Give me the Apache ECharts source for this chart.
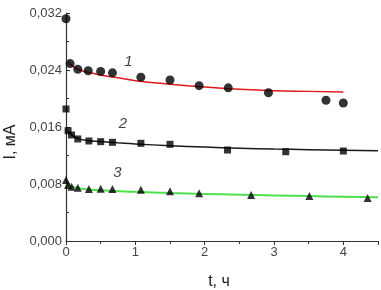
<!DOCTYPE html>
<html><head><meta charset="utf-8">
<script src="https://cdn.jsdelivr.net/npm/echarts@6/dist/echarts.min.js"></script>
<style>html,body{margin:0;padding:0;background:#fff}#c{width:381px;height:290px}</style>
</head><body><div id="c"></div>
<script>
// Experimental points: [t (h), I (mA)]
const pts1 = [[0,0.0312],[0.06,0.0249],[0.17,0.0241],[0.32,0.0239],[0.5,0.0238],[0.67,0.0236],[1.08,0.0230],[1.5,0.0226],[1.92,0.0218],[2.34,0.0215],[2.92,0.0208],[3.75,0.01975],[4.0,0.01937]];
const pts2 = [[0,0.01853],[0.03,0.01548],[0.08,0.01488],[0.17,0.01432],[0.33,0.01404],[0.5,0.01394],[0.67,0.01385],[1.08,0.01371],[1.5,0.01357],[2.33,0.01277],[3.17,0.01253],[4.0,0.01263]];
const pts3 = [[0,0.00856],[0.03,0.00786],[0.08,0.00762],[0.17,0.00748],[0.33,0.0073],[0.5,0.00734],[0.67,0.0073],[1.08,0.0072],[1.5,0.00698],[1.92,0.0067],[2.67,0.00646],[3.51,0.00632],[4.35,0.00604]];
// Fitted curves
const fit1 = [[0.03,0.0252],[0.1,0.0245],[0.2,0.0240],[0.35,0.0236],[0.5,0.0233],[0.75,0.0229],[1,0.0225],[1.5,0.0220],[2,0.0216],[2.5,0.0213],[3,0.0211],[3.5,0.0210],[4,0.0209]];
const fit2 = [[0.02,0.0155],[0.08,0.0149],[0.17,0.0144],[0.3,0.0141],[0.5,0.01395],[0.75,0.01378],[1,0.01362],[1.5,0.01338],[2,0.01318],[2.5,0.01303],[3,0.01291],[3.5,0.01282],[4,0.01274],[4.5,0.01267]];
const fit3 = [[0,0.0080],[0.1,0.0076],[0.25,0.0073],[0.5,0.00712],[1,0.0069],[1.5,0.00672],[2,0.0066],[2.5,0.0065],[3,0.0064],[3.5,0.0063],[4,0.00621],[4.5,0.00613]];
const curveLabels = [["1",0.9,0.0251],["2",0.82,0.0165],["3",0.74,0.0096]];
const xTicks = [0,1,2,3,4];

const chart = echarts.init(document.getElementById('c'));
const fmt = v => v.toFixed(3).replace('.', ',');
const axisCol = '#333';
chart.setOption({
  animation:false,
  grid:{left:66,right:3,top:13,bottom:49,outerBoundsMode:'none',containLabel:false},
  xAxis:{type:'value',min:0,max:4.5,interval:1,
    name:'t, ч',nameLocation:'middle',nameGap:33,
    nameTextStyle:{fontFamily:'Liberation Sans',fontSize:16,color:'#222',padding:[0,6,0,0]},
    axisLine:{lineStyle:{color:axisCol,width:1.2}},
    axisTick:{inside:false,length:4,lineStyle:{color:axisCol}},
    minorTick:{show:true,splitNumber:2,length:3,lineStyle:{color:axisCol}},
    splitLine:{show:false},
    axisLabel:{fontFamily:'Liberation Sans',fontSize:13,color:'#444',margin:5,
      formatter:v=>xTicks.includes(v)?String(v):''}
  },
  yAxis:{type:'value',min:0,max:0.032,interval:0.008,
    name:'I, мА',nameLocation:'middle',nameGap:47,nameRotate:90,
    nameTextStyle:{fontFamily:'Liberation Sans',fontSize:16,color:'#222',padding:[0,30,0,0]},
    axisLine:{show:true,lineStyle:{color:axisCol,width:1.2}},
    axisTick:{show:true,inside:true,length:4,lineStyle:{color:axisCol}},
    minorTick:{show:true,splitNumber:2,length:3,lineStyle:{color:axisCol}},
    splitLine:{show:false},
    axisLabel:{fontFamily:'Liberation Sans',fontSize:13,color:'#444',margin:4,formatter:fmt}
  },
  series:[
    {type:'line',data:fit1,smooth:true,showSymbol:false,lineStyle:{color:'#e0191f',width:1.5},z:2},
    {type:'line',data:fit2,smooth:true,showSymbol:false,lineStyle:{color:'#1a1a1a',width:1.5},z:2},
    {type:'line',data:fit3,smooth:true,showSymbol:false,lineStyle:{color:'#4ee04e',width:2},z:2},
    {type:'scatter',data:pts1,symbol:'circle',symbolSize:9,itemStyle:{color:'#000'},z:3},
    {type:'scatter',data:pts2,symbol:'rect',symbolSize:7,itemStyle:{color:'#000'},z:3},
    {type:'scatter',data:pts3,symbol:'triangle',symbolSize:8,itemStyle:{color:'#000'},z:3},
    {type:'scatter',data:curveLabels.map(d=>[d[1],d[2],d[0]]),symbolSize:0,silent:true,
      label:{show:true,position:'inside',formatter:p=>p.value[2],fontFamily:'Liberation Sans',fontStyle:'italic',fontSize:15,color:'#111'}}
  ]
});
</script></body></html>
